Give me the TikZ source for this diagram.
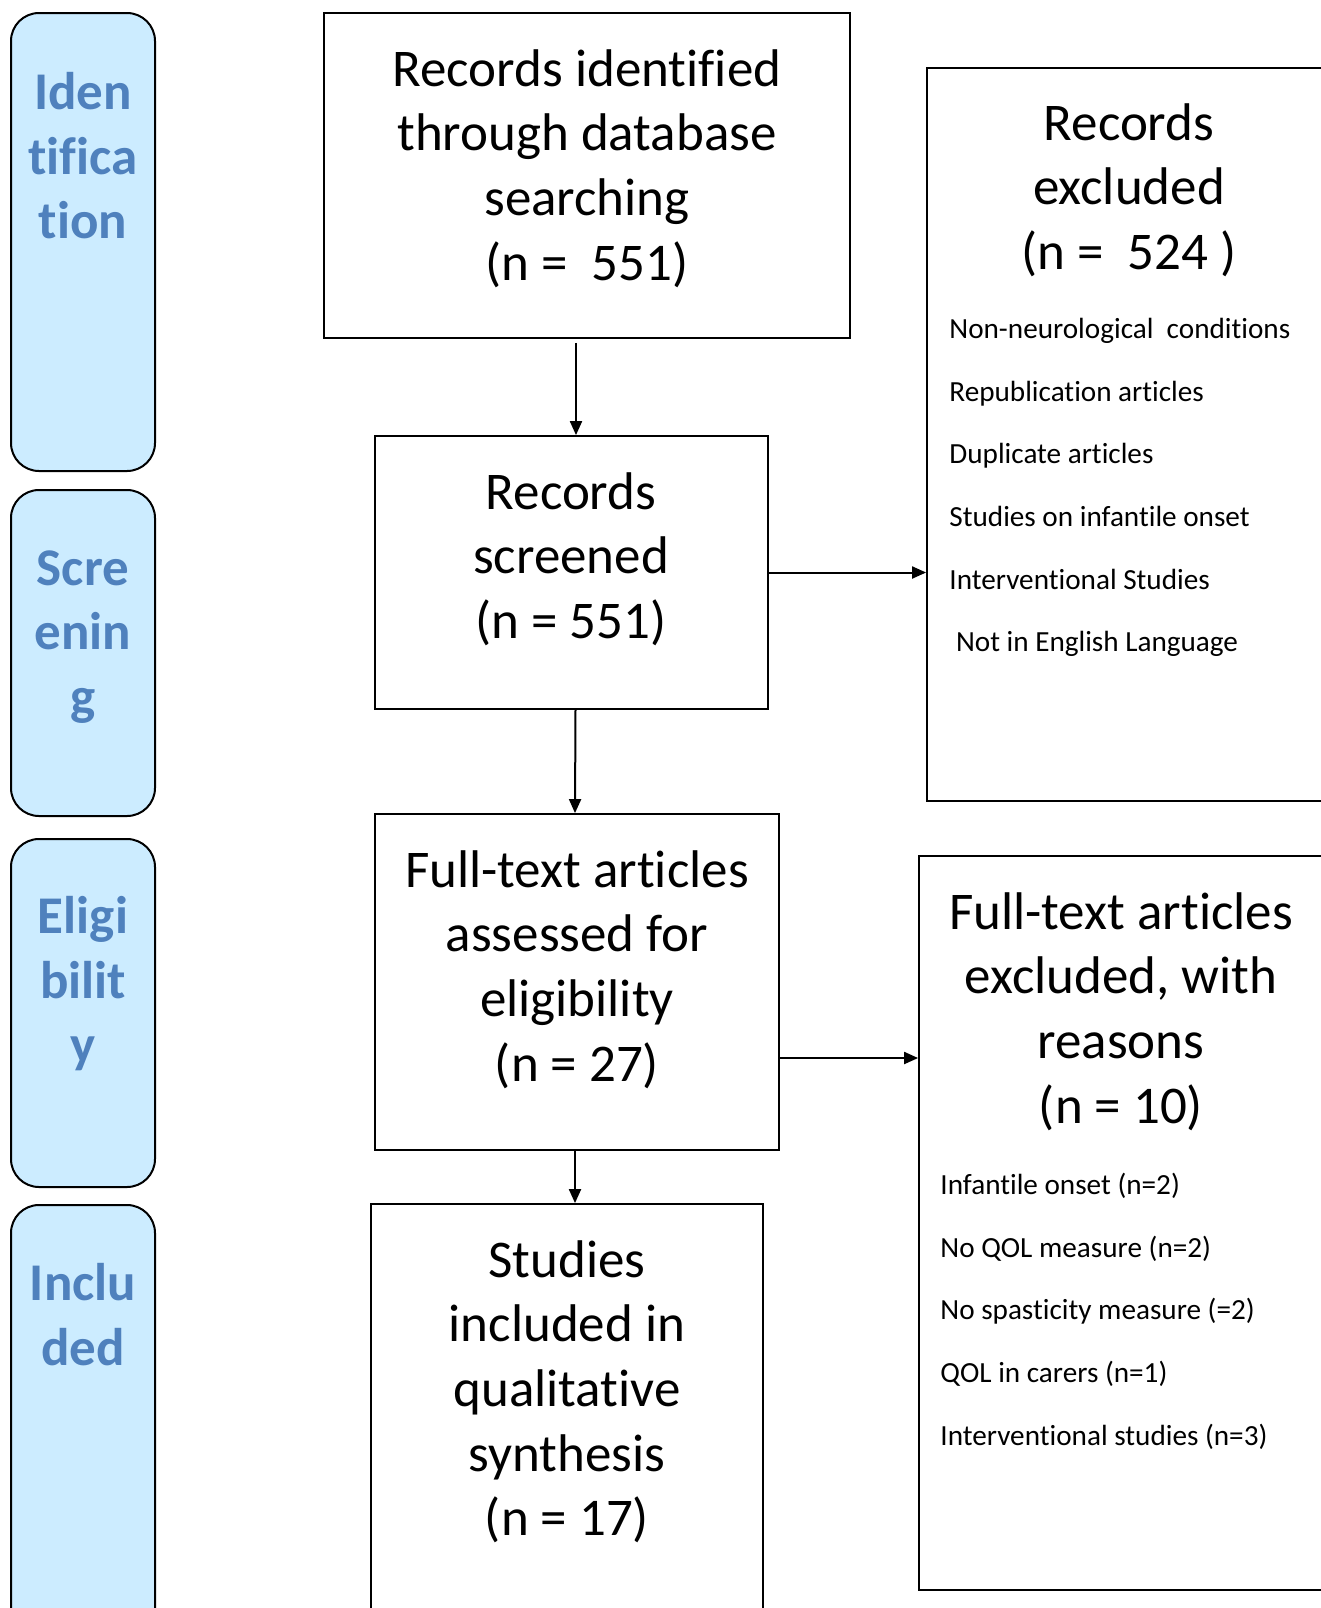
\documentclass[tikz,border=0pt]{standalone}
\usepackage{fontspec}
\setmainfont{Carlito}[RawFeature={-liga;-clig;-calt;-dlig}]
\usetikzlibrary{arrows.meta}
\definecolor{lanefill}{RGB}{204,236,255}
\definecolor{lanetext}{RGB}{79,129,189}
\begin{document}
\begin{tikzpicture}[x=0.5pt,y=-0.5pt,
  lane/.style={draw,line width=1pt,fill=lanefill,rounded corners=14pt,minimum width=72pt,inner sep=0pt},
  lanelbl/.style={font=\fontsize{26.5}{32.3}\selectfont\bfseries,text=lanetext,align=center,anchor=north,inner sep=0pt},
  box/.style={draw,line width=0.9pt,inner sep=0pt},
  big/.style={font=\fontsize{26.5}{32.3}\selectfont,align=center,anchor=north,inner sep=0pt},
  reason/.style={font=\fontsize{14.6}{31.3}\selectfont,align=left,anchor=north west,inner sep=0pt},
  arr/.style={-{Triangle[length=7pt,width=6pt]},line width=1pt}]
\useasboundingbox (0,0) rectangle (1321,1608);
\node[lane,minimum height=229pt] (idlane) at (83,242) {};
\node[lane,minimum height=163pt] (scrlane) at (83,653) {};
\node[lane,minimum height=174pt] (eliglane) at (83,1013) {};
\node[lane,minimum height=217.5pt] (incllane) at (83,1422.5) {};
\node[lanelbl] (idlbl) at (83,72) {Iden\\tifica\\tion};
\node[lanelbl] (scrlbl) at (83,550) {Scre\\enin\\g};
\node[lanelbl] (eliglbl) at (83,896) {Eligi\\bilit\\y};
\node[lanelbl] (incllbl) at (83,1263) {Inclu\\ded};
\node[box,minimum width=263pt,minimum height=162.5pt] (found) at (587,175.5) {};
\node[box,minimum width=196.5pt,minimum height=136.5pt] (screened) at (571.5,572.5) {};
\node[box,minimum width=202pt,minimum height=168pt] (assessed) at (577,982) {};
\node[box,minimum width=196pt,minimum height=213pt] (included) at (567,1417) {};
\node[box,minimum width=206.5pt,minimum height=366.5pt] (excl) at (1133.5,434.5) {};
\node[box,minimum width=210.5pt,minimum height=367pt] (ftexcl) at (1129.5,1223) {};
\node[big] (foundtxt) at (587,49) {Records identified\\through database\\searching\\(n =~ 551)};
\node[big] (screenedtxt) at (571,472) {Records\\screened\\(n = 551)};
\node[big] (assessedtxt) at (577,850) {Full-text articles\\assessed for\\eligibility\\(n = 27)};
\node[big] (includedtxt) at (567,1240) {Studies\\included in\\qualitative\\synthesis\\(n = 17)};
\node[big] (excltxt) at (1129,103) {Records\\excluded\\(n =~ 524 )};
\node[reason] (exclwhy) at (949,318) {Non-neurological\ \ conditions\\Republication articles\\Duplicate articles\\Studies on infantile onset\\Interventional Studies\\\ Not in English Language};
\node[big] (ftexcltxt) at (1121,892) {Full-text articles\\excluded, with\\reasons\\(n = 10)};
\node[reason] (ftexclwhy) at (940,1173) {Infantile onset (n=2)\\No QOL measure (n=2)\\No spasticity measure (=2)\\QOL in carers (n=1)\\Interventional studies (n=3)};
\draw[arr,shorten <=2pt] ([xshift=-5.5pt]found.south) -- ([xshift=2.25pt]screened.north);
\draw[arr] ([xshift=2pt]screened.south) -- ([xshift=-1pt]assessed.north);
\draw[arr] (screened.east) -- (screened.east -| excl.west);
\coordinate (ftout) at ([yshift=-38pt]assessed.east);
\draw[arr] (ftout) -- (ftout -| ftexcl.west);
\draw[arr] ([xshift=-1pt]assessed.south) -- ([xshift=4pt]included.north);
\end{tikzpicture}
\end{document}
